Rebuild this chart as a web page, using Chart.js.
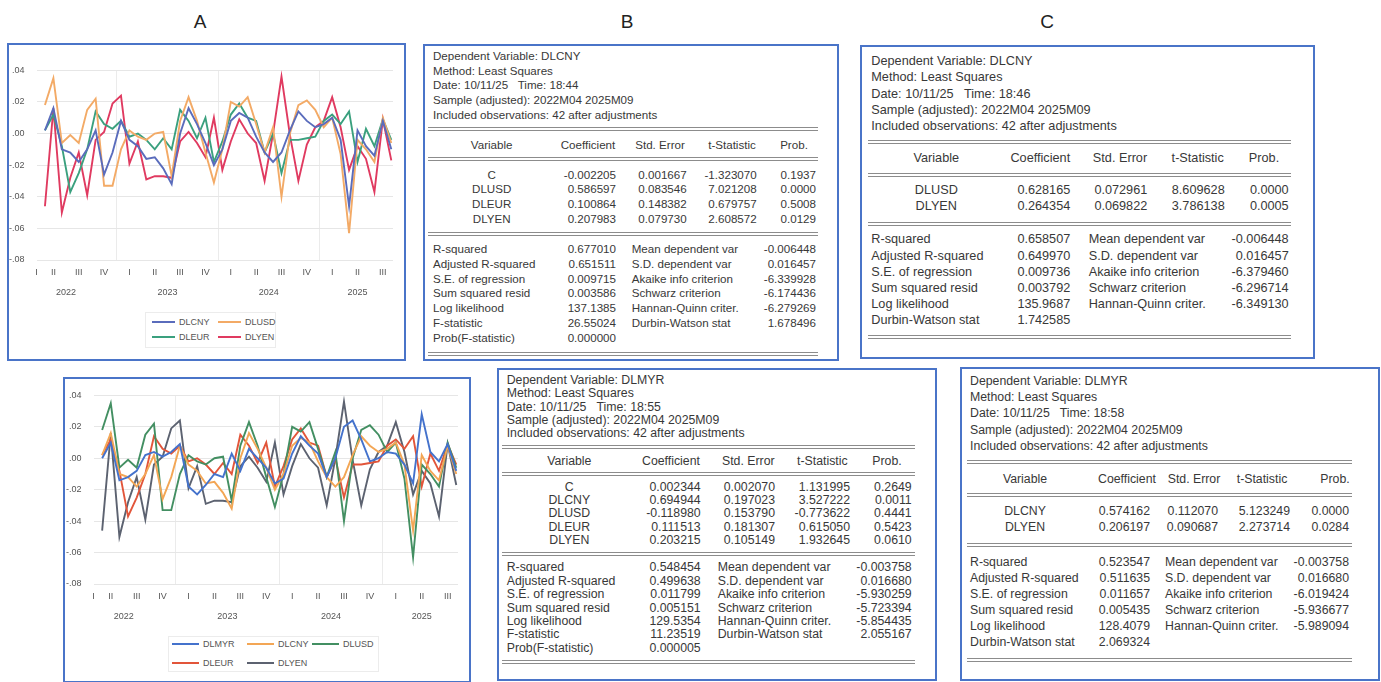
<!DOCTYPE html>
<html>
<head>
<meta charset="utf-8">
<script src="https://cdn.jsdelivr.net/npm/chart.js@4.4.1/dist/chart.umd.min.js"></script>
<style>
  html, body { margin: 0; padding: 0; background: #fff; }
  body { width: 1381px; height: 682px; position: relative; overflow: hidden;
         font-family: "Liberation Sans", Arial, sans-serif; }
  .frame { position: absolute; border: 2px solid #4a74c8; box-sizing: border-box; }
  .t { position: absolute; white-space: pre; color: #383838; line-height: 1; }
  .rule { position: absolute; height: 1px; background: #8c8c8c; }
  .panel { position: absolute; font-size: 19px; color: #222; transform: translate(-50%, -50%); }
  canvas { position: absolute; }
  .lgbox { position: absolute; border: 1px solid #ececec; box-sizing: border-box; }
  .lgline { position: absolute; height: 2px; }
  .lgtext { position: absolute; font-size: 9px; color: #555; transform: translateY(-50%); white-space: nowrap; }
</style>
</head>
<body>
<div class="panel" style="left:200px;top:22px">A</div>
<div class="panel" style="left:627px;top:22px">B</div>
<div class="panel" style="left:1047px;top:22px">C</div>

<div class="frame" style="left:7px;top:43px;width:399px;height:318px"></div>
<div class="frame" style="left:63px;top:377px;width:408px;height:306px"></div>
<canvas id="chartA" width="395" height="260" style="left:8px;top:44px"></canvas>
<canvas id="chartB" width="404" height="250" style="left:65px;top:378px"></canvas>

<script>
// Monthly log-differences, 2022M04 .. 2025M09
const months = [
  '2022M04','2022M05','2022M06','2022M07','2022M08','2022M09','2022M10','2022M11','2022M12',
  '2023M01','2023M02','2023M03','2023M04','2023M05','2023M06','2023M07','2023M08','2023M09','2023M10','2023M11','2023M12',
  '2024M01','2024M02','2024M03','2024M04','2024M05','2024M06','2024M07','2024M08','2024M09','2024M10','2024M11','2024M12',
  '2025M01','2025M02','2025M03','2025M04','2025M05','2025M06','2025M07','2025M08','2025M09'
];
const quarterLabels = ['I', 'II', 'III', 'IV'];
const yearLabels = ['2022', '2023', '2024', '2025'];
const yTicks = [0.04, 0.02, 0.00, -0.02, -0.04, -0.06, -0.08];

const dlcny = [0.002, 0.016, -0.010, -0.012, -0.018, -0.010, 0.002, -0.026, -0.012, 0.008, -0.004, -0.008, -0.016, -0.015,
  -0.022, -0.032, 0.000, 0.016, 0.006, -0.006, -0.020, -0.010, 0.008, 0.013, 0.010, -0.002, -0.012, -0.018, -0.012, 0.002,
  0.014, 0.008, 0.004, 0.006, 0.010, -0.004, -0.046, 0.002, -0.008, -0.014, 0.008, -0.010];
const dlusd = [0.018, 0.035, -0.006, -0.001, -0.006, 0.015, 0.022, -0.033, -0.033, -0.010, 0.002, -0.002, -0.004, 0.000,
  0.001, -0.027, 0.008, 0.023, 0.008, -0.012, -0.031, -0.010, 0.020, 0.017, 0.023, 0.006, -0.012, 0.004, -0.040, 0.000,
  0.018, 0.021, 0.015, 0.004, 0.010, -0.013, -0.063, -0.004, -0.010, -0.018, 0.010, -0.006];
const dleur = [0.002, 0.012, -0.008, -0.037, -0.025, -0.010, 0.014, 0.006, 0.003, 0.008, -0.002, 0.000, -0.004, -0.010,
  -0.003, -0.010, 0.015, 0.008, -0.003, 0.010, -0.018, -0.005, 0.012, 0.019, 0.010, 0.008, -0.012, 0.000, -0.025, -0.004,
  -0.004, -0.003, -0.002, 0.008, 0.012, 0.006, 0.014, -0.018, 0.003, -0.008, 0.009, -0.004];
const dlyen = [-0.046, 0.016, -0.050, -0.028, -0.012, -0.039, -0.004, 0.001, 0.019, 0.024, -0.019, -0.005, -0.029, -0.027,
  -0.027, -0.028, -0.005, 0.001, -0.006, -0.015, 0.010, -0.023, -0.005, 0.009, 0.000, -0.006, -0.030, 0.000, 0.036, -0.001,
  -0.030, -0.007, 0.004, 0.008, 0.023, 0.004, -0.023, -0.008, -0.016, -0.037, 0.009, -0.017];
const dlmyr = [0.000, 0.010, -0.014, -0.012, -0.008, 0.002, 0.004, 0.001, 0.004, 0.009, -0.018, -0.023, -0.017, -0.010,
  -0.012, 0.003, -0.008, 0.006, 0.000, -0.006, -0.016, -0.013, 0.003, 0.014, 0.008, 0.003, -0.012, 0.000, 0.020, 0.024,
  0.012, -0.002, 0.000, 0.004, 0.003, -0.004, -0.016, 0.028, 0.004, -0.002, 0.009, -0.008];

// Estimation output tables
const tableB = {
  header: ['Dependent Variable: DLCNY', 'Method: Least Squares', 'Date: 10/11/25   Time: 18:44',
           'Sample (adjusted): 2022M04 2025M09', 'Included observations: 42 after adjustments'],
  rows: [['C', '-0.002205', '0.001667', '-1.323070', '0.1937'],
         ['DLUSD', '0.586597', '0.083546', '7.021208', '0.0000'],
         ['DLEUR', '0.100864', '0.148382', '0.679757', '0.5008'],
         ['DLYEN', '0.207983', '0.079730', '2.608572', '0.0129']],
  stats: [['R-squared', '0.677010', 'Mean dependent var', '-0.006448'],
          ['Adjusted R-squared', '0.651511', 'S.D. dependent var', '0.016457'],
          ['S.E. of regression', '0.009715', 'Akaike info criterion', '-6.339928'],
          ['Sum squared resid', '0.003586', 'Schwarz criterion', '-6.174436'],
          ['Log likelihood', '137.1385', 'Hannan-Quinn criter.', '-6.279269'],
          ['F-statistic', '26.55024', 'Durbin-Watson stat', '1.678496'],
          ['Prob(F-statistic)', '0.000000']]
};
const tableC = {
  header: ['Dependent Variable: DLCNY', 'Method: Least Squares', 'Date: 10/11/25   Time: 18:46',
           'Sample (adjusted): 2022M04 2025M09', 'Included observations: 42 after adjustments'],
  rows: [['DLUSD', '0.628165', '0.072961', '8.609628', '0.0000'],
         ['DLYEN', '0.264354', '0.069822', '3.786138', '0.0005']],
  stats: [['R-squared', '0.658507', 'Mean dependent var', '-0.006448'],
          ['Adjusted R-squared', '0.649970', 'S.D. dependent var', '0.016457'],
          ['S.E. of regression', '0.009736', 'Akaike info criterion', '-6.379460'],
          ['Sum squared resid', '0.003792', 'Schwarz criterion', '-6.296714'],
          ['Log likelihood', '135.9687', 'Hannan-Quinn criter.', '-6.349130'],
          ['Durbin-Watson stat', '1.742585']]
};
const tableD = {
  header: ['Dependent Variable: DLMYR', 'Method: Least Squares', 'Date: 10/11/25   Time: 18:55',
           'Sample (adjusted): 2022M04 2025M09', 'Included observations: 42 after adjustments'],
  rows: [['C', '0.002344', '0.002070', '1.131995', '0.2649'],
         ['DLCNY', '0.694944', '0.197023', '3.527222', '0.0011'],
         ['DLUSD', '-0.118980', '0.153790', '-0.773622', '0.4441'],
         ['DLEUR', '0.111513', '0.181307', '0.615050', '0.5423'],
         ['DLYEN', '0.203215', '0.105149', '1.932645', '0.0610']],
  stats: [['R-squared', '0.548454', 'Mean dependent var', '-0.003758'],
          ['Adjusted R-squared', '0.499638', 'S.D. dependent var', '0.016680'],
          ['S.E. of regression', '0.011799', 'Akaike info criterion', '-5.930259'],
          ['Sum squared resid', '0.005151', 'Schwarz criterion', '-5.723394'],
          ['Log likelihood', '129.5354', 'Hannan-Quinn criter.', '-5.854435'],
          ['F-statistic', '11.23519', 'Durbin-Watson stat', '2.055167'],
          ['Prob(F-statistic)', '0.000005']]
};
const tableE = {
  header: ['Dependent Variable: DLMYR', 'Method: Least Squares', 'Date: 10/11/25   Time: 18:58',
           'Sample (adjusted): 2022M04 2025M09', 'Included observations: 42 after adjustments'],
  rows: [['DLCNY', '0.574162', '0.112070', '5.123249', '0.0000'],
         ['DLYEN', '0.206197', '0.090687', '2.273714', '0.0284']],
  stats: [['R-squared', '0.523547', 'Mean dependent var', '-0.003758'],
          ['Adjusted R-squared', '0.511635', 'S.D. dependent var', '0.016680'],
          ['S.E. of regression', '0.011657', 'Akaike info criterion', '-6.019424'],
          ['Sum squared resid', '0.005435', 'Schwarz criterion', '-5.936677'],
          ['Log likelihood', '128.4079', 'Hannan-Quinn criter.', '-5.989094'],
          ['Durbin-Watson stat', '2.069324']]
};
const columnHeads = ['Variable', 'Coefficient', 'Std. Error', 't-Statistic', 'Prob.'];

// ---------- tables ----------
function addText(txt, x, y, align, size) {
  const d = document.createElement('div');
  d.className = 't';
  d.textContent = txt;
  d.style.fontSize = size + 'px';
  d.style.left = x + 'px';
  d.style.top = y + 'px';
  const tx = align === 'right' ? '-100%' : align === 'center' ? '-50%' : '0';
  d.style.transform = 'translate(' + tx + ',-55%)';
  document.body.appendChild(d);
}
function addRule(x0, x1, y) {
  [-1.5, 1.5].forEach(off => {
    const r = document.createElement('div');
    r.className = 'rule';
    r.style.left = x0 + 'px';
    r.style.width = (x1 - x0) + 'px';
    r.style.top = (y + off - 0.5) + 'px';
    document.body.appendChild(r);
  });
}
function addFrame(b) {
  const f = document.createElement('div');
  f.className = 'frame';
  Object.assign(f.style, { left: b[0] + 'px', top: b[1] + 'px', width: (b[2] - b[0]) + 'px', height: (b[3] - b[1]) + 'px' });
  document.body.appendChild(f);
}
function buildTable(tab, L) {
  addFrame(L.box);
  tab.header.forEach((s, k) => addText(s, L.labelLeft, L.headY + k * L.headStep, 'left', L.size));
  addRule(L.ruleX[0], L.ruleX[1], L.rules[0]);
  columnHeads.forEach((h, k) => addText(h, L.headCenters[k], L.colHeadY, 'center', L.size));
  addRule(L.ruleX[0], L.ruleX[1], L.rules[1]);
  tab.rows.forEach((r, k) => {
    const y = L.coefY + k * L.coefStep;
    addText(r[0], L.varCenter, y, 'center', L.size);
    addText(r[1], L.coefRight, y, 'right', L.size);
    addText(r[2], L.seRight, y, 'right', L.size);
    addText(r[3], L.tRight, y, 'right', L.size);
    addText(r[4], L.probRight, y, 'right', L.size);
  });
  addRule(L.ruleX[0], L.ruleX[1], L.rules[2]);
  tab.stats.forEach((r, k) => {
    const y = L.statY + k * L.statStep;
    addText(r[0], L.labelLeft, y, 'left', L.size);
    addText(r[1], L.coefRight, y, 'right', L.size);
    if (r[2]) {
      addText(r[2], L.label2Left, y, 'left', L.size);
      addText(r[3], L.probRight, y, 'right', L.size);
    }
  });
  addRule(L.ruleX[0], L.ruleX[1], L.rules[3]);
}

buildTable(tableB, {
  box: [423, 44, 839, 361], size: 11.6, labelLeft: 433, headY: 56, headStep: 14.7,
  rules: [129, 158.7, 233.7, 353.7], ruleX: [428, 818], colHeadY: 144.7,
  headCenters: [491.7, 588, 660, 732, 794],
  coefY: 174.7, coefStep: 14.7, statY: 248.7, statStep: 14.9,
  varCenter: 491.7, coefRight: 616, seRight: 686.7, tRight: 756.7, probRight: 816, label2Left: 631.7
});
buildTable(tableC, {
  box: [860, 45, 1315, 359], size: 12.7, labelLeft: 871.3, headY: 62, headStep: 16.25,
  rules: [142, 175.3, 223.7, 337], ruleX: [868, 1291], colHeadY: 158.7,
  headCenters: [936.3, 1040.3, 1120, 1197.7, 1264],
  coefY: 191.3, coefStep: 15.8, statY: 240.3, statStep: 16.2,
  varCenter: 936.3, coefRight: 1070.3, seRight: 1147.3, tRight: 1224.7, probRight: 1288.7, label2Left: 1088.7
});
buildTable(tableD, {
  box: [497, 368, 937, 681], size: 12.3, labelLeft: 506.7, headY: 381, headStep: 13.3,
  rules: [447, 474.3, 554.3, 661.7], ruleX: [501.7, 915], colHeadY: 461.7,
  headCenters: [569.3, 671, 748.3, 822.3, 887],
  coefY: 487.7, coefStep: 13.33, statY: 568.3, statStep: 13.4,
  varCenter: 569.3, coefRight: 700.7, seRight: 775, tRight: 850, probRight: 911.7, label2Left: 717.7
});
buildTable(tableE, {
  box: [960, 367, 1380, 681], size: 12.3, labelLeft: 970, headY: 382, headStep: 16.2,
  rules: [462, 495, 545, 660], ruleX: [967, 1352], colHeadY: 480,
  headCenters: [1025, 1127, 1194, 1262, 1335],
  coefY: 512, coefStep: 15.5, statY: 562.5, statStep: 16,
  varCenter: 1025, coefRight: 1150, seRight: 1218, tRight: 1290, probRight: 1349, label2Left: 1165
});

// ---------- charts ----------
const X_MIN = -1, X_MAX = 41.2;
const FIRST_YEAR_START = -3;            // index of 2022M01 relative to 2022M04
const LAST_INDEX = months.length - 1;
const yearBounds = [8.5, 20.5, 32.5];   // Dec/Jan boundaries

function quarterTicks() {
  const out = [];
  yearLabels.forEach((y, yi) => {
    quarterLabels.forEach((q, qi) => {
      let v = FIRST_YEAR_START + yi * 12 + qi * 3 + 1;   // middle month of the quarter
      if (v > X_MAX) return;
      if (v < X_MIN) v = X_MIN;
      out.push({ value: v, label: q });
    });
  });
  yearBounds.forEach(b => out.push({ value: b, label: '' }));
  return out;
}
function yearTicks() {
  return yearLabels.map((y, yi) => {
    const s = Math.max(FIRST_YEAR_START + yi * 12, FIRST_YEAR_START);
    const e = Math.min(FIRST_YEAR_START + yi * 12 + 11, LAST_INDEX);
    return { value: (s + e) / 2, label: y };
  });
}
function series(values) { return values.map((v, i) => ({ x: i, y: v })); }
function fmtY(v) {
  const r = Math.round(v * 100) / 100;
  return r.toFixed(2).replace('0.', '.');
}

function makeChart(id, sets, padTop, padRight) {
  const qt = quarterTicks(), yt = yearTicks();
  return new Chart(document.getElementById(id), {
    type: 'line',
    data: {
      datasets: sets.map(s => ({
        label: s.label, data: series(s.values), borderColor: s.color, backgroundColor: s.color,
        borderWidth: 1.9, pointRadius: 0, tension: 0, fill: false
      }))
    },
    options: {
      responsive: false, animation: false, devicePixelRatio: 1,
      layout: { padding: { top: padTop, right: padRight, left: 0, bottom: 0 } },
      plugins: { legend: { display: false }, tooltip: { enabled: false } },
      scales: {
        x: {
          type: 'linear', min: X_MIN, max: X_MAX, position: 'bottom',
          afterBuildTicks: sc => { sc.ticks = qt.map(t => ({ value: t.value })); },
          afterFit: sc => { sc.height = 20; },
          ticks: {
            autoSkip: false, maxRotation: 0, padding: 7, color: '#555',
            font: { size: 9, family: 'Liberation Sans' },
            callback: (v, i) => qt[i] ? qt[i].label : ''
          },
          grid: {
            drawTicks: false,
            color: ctx => (ctx.tick && yearBounds.includes(ctx.tick.value)) ? '#ebebeb' : 'rgba(0,0,0,0)'
          },
          border: { display: false }
        },
        x2: {
          type: 'linear', min: X_MIN, max: X_MAX, position: 'bottom',
          afterBuildTicks: sc => { sc.ticks = yt.map(t => ({ value: t.value })); },
          afterFit: sc => { sc.height = 24; },
          ticks: {
            autoSkip: false, maxRotation: 0, padding: 7, color: '#555',
            font: { size: 9, family: 'Liberation Sans' },
            callback: (v, i) => yt[i] ? yt[i].label : ''
          },
          grid: { display: false, drawTicks: false },
          border: { display: false }
        },
        y: {
          min: -0.08, max: 0.04,
          afterBuildTicks: sc => { sc.ticks = yTicks.map(v => ({ value: v })); },
          afterFit: sc => { sc.width = 28.5; },
          ticks: { padding: 12, color: '#555', font: { size: 9, family: 'Liberation Sans' }, callback: v => fmtY(v) },
          grid: { drawTicks: false, color: '#e6e6e6' },
          border: { display: false }
        }
      }
    }
  });
}

const chartA = makeChart('chartA', [
  { label: 'DLCNY', values: dlcny, color: '#5a6cbc' },
  { label: 'DLUSD', values: dlusd, color: '#f3aa66' },
  { label: 'DLEUR', values: dleur, color: '#3aa07e' },
  { label: 'DLYEN', values: dlyen, color: '#e03a60' }
], 26.3, 10);

const chartB = makeChart('chartB', [
  { label: 'DLMYR', values: dlmyr, color: '#4472cc' },
  { label: 'DLCNY', values: dlcny, color: '#f3a655' },
  { label: 'DLUSD', values: dlusd, color: '#438f62' },
  { label: 'DLEUR', values: dleur, color: '#e2553a' },
  { label: 'DLYEN', values: dlyen, color: '#5c6270' }
], 13, 11);

// ---------- legends, built from the chart datasets ----------
function buildLegend(chart, L) {
  const box = document.createElement('div');
  box.className = 'lgbox';
  Object.assign(box.style, { left: L.box[0] + 'px', top: L.box[1] + 'px', width: (L.box[2] - L.box[0]) + 'px', height: (L.box[3] - L.box[1]) + 'px' });
  document.body.appendChild(box);
  chart.data.datasets.forEach((ds, k) => {
    const col = k % L.cols.length, row = Math.floor(k / L.cols.length);
    const x = L.cols[col], y = L.rows[row];
    const ln = document.createElement('div');
    ln.className = 'lgline';
    Object.assign(ln.style, { left: x + 'px', top: (y - 1) + 'px', width: L.lineLen + 'px', background: ds.borderColor });
    document.body.appendChild(ln);
    const tx = document.createElement('div');
    tx.className = 'lgtext';
    tx.textContent = ds.label;
    Object.assign(tx.style, { left: (x + L.lineLen + 4) + 'px', top: y + 'px' });
    document.body.appendChild(tx);
  });
}
buildLegend(chartA, { box: [145, 312, 276, 348], cols: [152, 218], rows: [322, 337], lineLen: 23 });
buildLegend(chartB, { box: [168, 636, 379, 672], cols: [172, 247, 312], rows: [644, 663], lineLen: 27 });
</script>
</body>
</html>
